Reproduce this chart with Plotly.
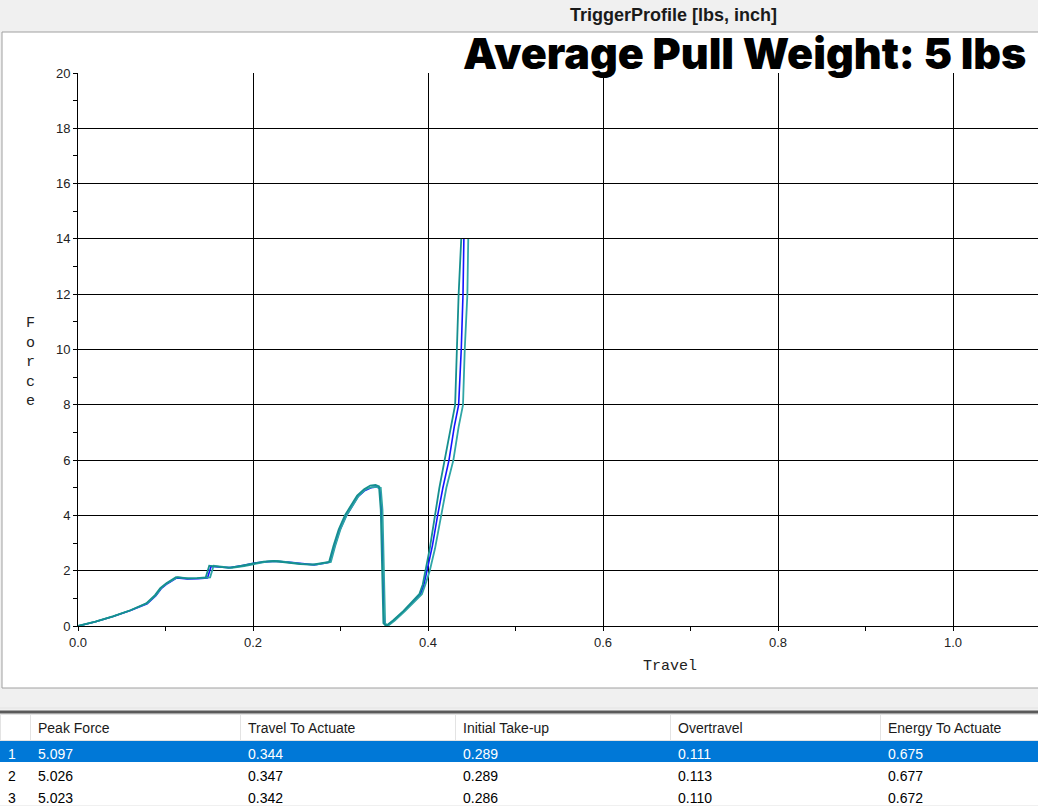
import plotly.graph_objects as go

# ---------------- data ----------------
travel_1 = [0.000, 0.020, 0.040, 0.060, 0.078, 0.088, 0.094, 0.101, 0.112, 0.124, 0.136, 0.146, 0.150, 0.160, 0.172, 0.186, 0.200, 0.212, 0.224, 0.238, 0.254, 0.268, 0.284, 0.287, 0.292, 0.298, 0.305, 0.312, 0.319, 0.327, 0.334, 0.340, 0.344, 0.346, 0.347, 0.348, 0.349, 0.352, 0.360, 0.372, 0.384, 0.390, 0.394, 0.397, 0.402, 0.408, 0.413, 0.419, 0.426, 0.431, 0.433, 0.435, 0.438]
force_1 = [0.00, 0.16, 0.35, 0.57, 0.82, 1.12, 1.37, 1.55, 1.77, 1.72, 1.73, 1.76, 2.18, 2.14, 2.10, 2.17, 2.27, 2.33, 2.35, 2.30, 2.24, 2.22, 2.30, 2.32, 2.9, 3.5, 4.0, 4.35, 4.72, 4.95, 5.08, 5.10, 5.05, 4.2, 2.5, 1.0, 0.1, 0.0, 0.2, 0.55, 0.95, 1.15, 1.5, 2.0, 2.8, 4.0, 5.0, 6.0, 7.2, 8.0, 10.0, 12.0, 14.0]

travel_2 = [0.000, 0.020, 0.040, 0.060, 0.079, 0.089, 0.095, 0.102, 0.113, 0.125, 0.137, 0.148, 0.152, 0.162, 0.174, 0.188, 0.202, 0.214, 0.226, 0.240, 0.256, 0.270, 0.285, 0.288, 0.293, 0.299, 0.306, 0.313, 0.320, 0.328, 0.335, 0.341, 0.345, 0.347, 0.348, 0.349, 0.350, 0.353, 0.361, 0.373, 0.385, 0.391, 0.395, 0.399, 0.405, 0.411, 0.417, 0.424, 0.430, 0.435, 0.438, 0.440, 0.441]
force_2 = [0.00, 0.15, 0.34, 0.56, 0.80, 1.10, 1.35, 1.53, 1.74, 1.70, 1.71, 1.74, 2.15, 2.12, 2.11, 2.19, 2.28, 2.32, 2.34, 2.31, 2.25, 2.21, 2.29, 2.31, 2.85, 3.45, 3.95, 4.3, 4.68, 4.9, 5.0, 5.03, 4.98, 4.1, 2.4, 1.0, 0.1, 0.0, 0.2, 0.55, 0.93, 1.12, 1.45, 2.0, 2.9, 4.0, 5.0, 6.0, 7.2, 8.0, 10.0, 12.0, 14.0]

travel_3 = [0.000, 0.020, 0.040, 0.060, 0.079, 0.089, 0.095, 0.102, 0.114, 0.126, 0.138, 0.151, 0.155, 0.164, 0.176, 0.190, 0.204, 0.216, 0.228, 0.242, 0.258, 0.272, 0.286, 0.289, 0.294, 0.300, 0.307, 0.314, 0.321, 0.329, 0.336, 0.342, 0.346, 0.348, 0.349, 0.350, 0.351, 0.354, 0.362, 0.374, 0.386, 0.393, 0.397, 0.402, 0.408, 0.415, 0.421, 0.429, 0.435, 0.440, 0.442, 0.445, 0.446]
force_3 = [0.00, 0.16, 0.35, 0.57, 0.82, 1.12, 1.37, 1.55, 1.77, 1.72, 1.73, 1.76, 2.18, 2.14, 2.10, 2.17, 2.27, 2.33, 2.35, 2.30, 2.24, 2.22, 2.30, 2.32, 2.9, 3.5, 4.0, 4.35, 4.72, 4.95, 5.02, 5.02, 5.0, 4.2, 2.5, 1.0, 0.1, 0.0, 0.2, 0.55, 0.95, 1.15, 1.5, 2.0, 2.8, 4.0, 5.0, 6.0, 7.2, 8.0, 10.0, 12.0, 14.0]

table_headers = ["", "Peak Force", "Travel To Actuate", "Initial Take-up", "Overtravel", "Energy To Actuate"]
run_ids = ["1", "2", "3"]
peak_force = ["5.097", "5.026", "5.023"]
travel_to_actuate = ["0.344", "0.347", "0.342"]
initial_takeup = ["0.289", "0.289", "0.286"]
overtravel = ["0.111", "0.113", "0.110"]
energy_to_actuate = ["0.675", "0.677", "0.672"]

# ---------------- figure ----------------
W, H = 1038, 806
fig = go.Figure()

TEAL_A = "#2fa6a6"
TEAL_B = "#158f8f"
BLUE = "#1414ff"

fig.add_trace(go.Scatter(x=travel_2, y=force_2, mode="lines",
                         line=dict(color=BLUE, width=1.6), hoverinfo="skip"))
fig.add_trace(go.Scatter(x=travel_3, y=force_3, mode="lines",
                         line=dict(color=TEAL_A, width=1.8), hoverinfo="skip"))
fig.add_trace(go.Scatter(x=travel_1, y=force_1, mode="lines",
                         line=dict(color=TEAL_B, width=1.8), hoverinfo="skip"))

row_fill = ["#0078d7", "white", "white"]
row_font = ["white", "black", "black"]
fig.add_trace(go.Table(
    domain=dict(x=[0, 1], y=[0, 1 - 714 / H]),
    columnwidth=[30, 210, 215, 215, 210, 158],
    header=dict(values=table_headers, align="left", height=26,
                fill_color="white", line=dict(color="#e3e3e3", width=1),
                font=dict(family="Liberation Sans Narrow, Liberation Sans, Arial", size=14, color="#1a1a1a")),
    cells=dict(values=[run_ids, peak_force, travel_to_actuate, initial_takeup, overtravel, energy_to_actuate],
               align="left", height=22,
               fill_color=[row_fill] * 6,
               line=dict(color=[row_fill] * 6, width=0),
               font=dict(family="Liberation Sans Narrow, Liberation Sans, Arial", size=14, color=[row_font] * 6)),
))

tick_font = dict(family="Liberation Sans, Arial", size=13, color="#222222")
fig.update_layout(
    template="none",
    width=W, height=H, autosize=False,
    margin=dict(l=0, r=0, t=0, b=0, pad=0, autoexpand=False),
    paper_bgcolor="#f0f0f0",
    plot_bgcolor="white",
    showlegend=False,
    xaxis=dict(domain=[78 / W, 1], range=[0, (W - 78) / 875], tick0=0, dtick=0.2, tickformat=".1f",
               automargin=False,
               showgrid=True, gridcolor="black", gridwidth=1, zeroline=False,
               showline=True, linecolor="black", linewidth=1,
               ticks="outside", ticklen=4, tickcolor="black", tickfont=tick_font,
               minor=dict(dtick=0.1, ticks="outside", ticklen=4, tickcolor="black", showgrid=False)),
    yaxis=dict(domain=[(H - 626) / H, (H - 73) / H], range=[0, 20], tick0=0, dtick=2,
               automargin=False,
               showgrid=True, gridcolor="black", gridwidth=1, zeroline=False,
               showline=True, linecolor="black", linewidth=1,
               ticks="outside", ticklen=4, tickcolor="black", tickfont=tick_font,
               minor=dict(dtick=1, ticks="outside", ticklen=4, tickcolor="black", showgrid=False)),
    shapes=[
        dict(type="rect", xref="paper", yref="paper", x0=2 / W, x1=1.01, y0=1 - 688 / H, y1=1 - 32 / H,
             fillcolor="white", line=dict(color="#a0a0a0", width=1), layer="below"),
        dict(type="line", xref="paper", yref="paper", x0=0, x1=1, y0=1 - 708 / H, y1=1 - 708 / H,
             line=dict(color="#e4e4e4", width=1)),
        dict(type="line", xref="paper", yref="paper", x0=0, x1=1, y0=1 - 712 / H, y1=1 - 712 / H,
             line=dict(color="#5a5a5a", width=3)),
    ],
    annotations=[
        dict(text="<b>TriggerProfile [lbs, inch]</b>", xref="paper", yref="paper",
             x=673 / W, y=1 - 15 / H, xanchor="center", yanchor="middle", showarrow=False,
             font=dict(family="Liberation Sans Narrow, Liberation Sans, Arial", size=18, color="#1a1a1a")),
        dict(text="Average Pull Weight: 5 lbs", xref="paper", yref="paper",
             x=1028 / W, y=1 - 53 / H, xanchor="right", yanchor="middle", showarrow=False,
             font=dict(family="Inter, Roboto, Arial", size=43, color="black", weight=900)),
        dict(text="Travel", xref="paper", yref="paper",
             x=670 / W, y=1 - 666 / H, xanchor="center", yanchor="middle", showarrow=False,
             font=dict(family="Liberation Mono, Courier New, monospace", size=15, color="#222222")),
        dict(text="F<br>o<br>r<br>c<br>e", xref="paper", yref="paper",
             x=30 / W, y=1 - 362 / H, xanchor="center", yanchor="middle", showarrow=False,
             font=dict(family="Liberation Mono, Courier New, monospace", size=15, color="#222222")),
    ],
)

fig.write_html("out.html",
               config={"responsive": False, "displayModeBar": False},
               post_script="document.body.style.margin='0';document.body.style.padding='0';"
                           "document.body.style.overflow='hidden';")
